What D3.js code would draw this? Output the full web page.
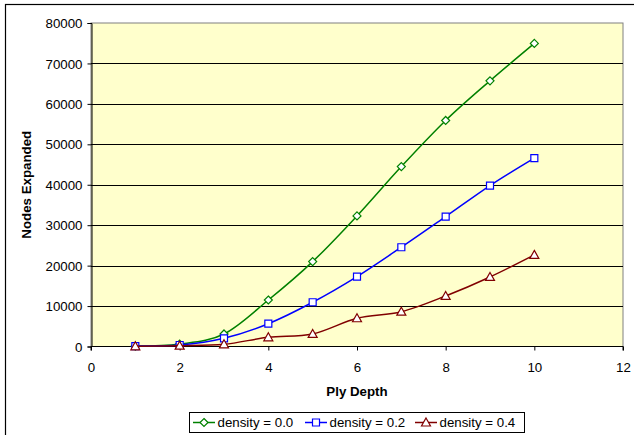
<!DOCTYPE html>
<html><head><meta charset="utf-8">
<script src="https://cdn.jsdelivr.net/npm/d3@7"></script>
<style>body{margin:0;background:#fff}svg{display:block;font-family:"Liberation Sans",Arial,sans-serif}</style>
</head><body><svg id="c" width="634" height="435"></svg>
<script>
const plyDepth = [1,2,3,4,5,6,7,8,9,10];
const density00 = [100,600,3100,11500,21000,32300,44500,55900,65700,74950];
const density02 = [100,370,2030,5640,10940,17280,24550,32130,39800,46580];
const density04 = [50,200,540,2280,3100,6980,8600,12500,17200,22650];
const seriesNames = ["density = 0.0","density = 0.2","density = 0.4"];
const xTicks = [0,2,4,6,8,10,12];
const yTicks = [0,10000,20000,30000,40000,50000,60000,70000,80000];

const colors = ["#008000","#0000FF","#800000"];
const shapes = ["diamond","square","triangle"];
const series = [density00,density02,density04].map((v,i)=>({name:seriesNames[i],values:v,color:colors[i],shape:shapes[i]}));

const FS = 13.3;
const svg = d3.select("#c");
const L=91,R=623,T=23,B=346.5;
const x = d3.scaleLinear().domain([0,12]).range([L,R]);
const y = d3.scaleLinear().domain([0,80000]).range([B,T]);

// outer border
svg.append("rect").attr("x",5.5).attr("y",4.5).attr("width",640).attr("height",440).attr("fill","#fff").attr("stroke","#000").attr("stroke-width",1.2);

// plot area
svg.append("rect").attr("x",L).attr("y",T).attr("width",R-L).attr("height",B-T).attr("fill","#FFFFCC").attr("stroke","#808080").attr("stroke-width",1);

// gridlines
svg.append("g").selectAll("line").data(yTicks.filter(d=>d>0&&d<80000)).join("line")
  .attr("x1",L).attr("x2",R).attr("y1",d=>Math.round(y(d))+0.5).attr("y2",d=>Math.round(y(d))+0.5)
  .attr("stroke","#000").attr("stroke-width",1);

// axes
const yAxis = svg.append("g").attr("transform",`translate(${L+0.5},0)`)
  .call(d3.axisLeft(y).tickValues(yTicks).tickSize(4).tickPadding(5).tickFormat(d3.format("d")));
const xAxis = svg.append("g").attr("transform",`translate(0,${B})`)
  .call(d3.axisBottom(x).tickValues(xTicks).tickSize(4).tickPadding(12).tickFormat(d3.format("d")));
[yAxis,xAxis].forEach(a=>{
  a.select(".domain").attr("stroke","#000");
  a.selectAll(".tick line").attr("stroke","#000");
  a.selectAll("text").attr("font-size",FS).attr("fill","#000").attr("font-family","Liberation Sans, Arial, sans-serif");
});
xAxis.select(".domain").attr("d",`M${L},4V0H${R}V4`);
yAxis.selectAll("text").attr("dy","0.35em");

// axis titles
svg.append("text").attr("x",(L+R)/2).attr("y",395.5).attr("text-anchor","middle")
  .attr("font-size",FS).attr("font-weight","bold").text("Ply Depth");
svg.append("text").attr("transform",`translate(31,${(T+B)/2}) rotate(-90)`).attr("text-anchor","middle")
  .attr("font-size",FS).attr("font-weight","bold").text("Nodes Expanded");

// lines
const line = d3.line().x((d,i)=>x(plyDepth[i])).y(d=>y(d)).curve(d3.curveCatmullRom.alpha(0));
function marker(g,shape,color){
  let p;
  if(shape==="diamond") p="M0,-4L4,0L0,4L-4,0Z";
  else if(shape==="square") p="M-3.5,-3.5H3.5V3.5H-3.5Z";
  else p="M0,-4.5L4.5,3.5H-4.5Z";
  g.append("path").attr("d",p).attr("fill","#fff").attr("stroke",color).attr("stroke-width",1.2);
}
series.forEach(s=>{
  svg.append("path").datum(s.values).attr("d",line).attr("fill","none").attr("stroke",s.color).attr("stroke-width",1.5);
  s.values.forEach((v,i)=>{
    const g = svg.append("g").attr("transform",`translate(${x(plyDepth[i])},${y(v)})`);
    marker(g,s.shape,s.color);
  });
});

// legend
const lg = svg.append("g");
lg.append("rect").attr("x",189.5).attr("y",412.5).attr("width",335).attr("height",20).attr("fill","#fff").attr("stroke","#000").attr("stroke-width",1);
const itemX = [193,305,415];
series.forEach((s,i)=>{
  const g = lg.append("g").attr("transform",`translate(${itemX[i]},422.5)`);
  g.append("line").attr("x1",0).attr("x2",22).attr("stroke",s.color).attr("stroke-width",1.5);
  const m = g.append("g").attr("transform","translate(11,0)");
  marker(m,s.shape,s.color);
  g.append("text").attr("x",24.5).attr("y",4.7).attr("font-size",FS).text(s.name);
});
</script></body></html>
